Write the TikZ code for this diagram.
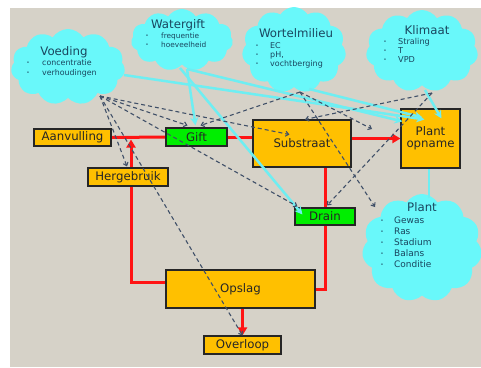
\documentclass[tikz,border=0pt]{standalone}
\usepackage{fontspec}
\setmainfont{DejaVu Sans}
\usetikzlibrary{shapes.symbols,arrows.meta,calc}
\pgfdeclarelayer{back}
\pgfdeclarelayer{flows}
\pgfsetlayers{back,flows,main}
\definecolor{bg}{RGB}{214,210,200}
\definecolor{cloudc}{RGB}{105,248,250}
\definecolor{cyanl}{RGB}{110,238,242}
\definecolor{boxor}{RGB}{255,192,0}
\definecolor{boxgr}{RGB}{0,238,0}
\definecolor{redl}{RGB}{255,20,20}
\definecolor{dashc}{RGB}{64,80,104}
\definecolor{cltext}{RGB}{25,70,95}
\newcommand\bul[1]{\makebox[#1][l]{\fontsize{5}{5}\selectfont\raisebox{0.8bp}{•}}}
\begin{document}
\begin{tikzpicture}[x=1bp,y=-1bp,
  cloudbox/.style={cloud, cloud puffs=11, cloud puff arc=115, cloud ignores aspect, fill=cloudc, draw=none, inner sep=0},
  title/.style={text=cltext, font=\fontsize{11.8}{14}\selectfont, inner sep=0},
  items/.style={text=cltext, align=left, anchor=north west, inner sep=0},
  obox/.style={draw=black!85, line width=1.1bp, fill=boxor, font=\fontsize{11.8}{13}\selectfont, text=black!85, inner sep=0, align=center},
  gbox/.style={obox, fill=boxgr},
  flow/.style={redl, line width=3bp},
  flowarr/.style={flow, -{Triangle[length=8bp,width=9bp]}},
  infl/.style={cyanl, line width=2.5bp, -{Stealth[length=8bp,width=8bp]}},
  infline/.style={cyanl, line width=2.5bp},
  dep/.style={dashc, line width=1.1bp, dash pattern=on 4bp off 3bp, -{Straight Barb[length=3bp,width=5bp]}},
]
\useasboundingbox (0,0) rectangle (481,367);

\begin{pgfonlayer}{back}
\fill[bg] (10,8) rectangle (481,367);
\node[cloudbox, minimum width=114bp, minimum height=76bp] (cVoed) at (68,67) {};
\node[cloudbox, minimum width=102bp, minimum height=62bp] (cWater) at (182,40) {};
\node[cloudbox, minimum width=104bp, minimum height=86bp] (cWortel) at (294,50) {};
\node[cloudbox, minimum width=112bp, minimum height=82bp] (cKlim) at (422,51) {};
\node[cloudbox, minimum width=120bp, minimum height=108bp] (cPlant) at (422,248) {};
\end{pgfonlayer}

% cloud texts
\node[title] (tVoed) at (64,52) {Voeding};
\node[items, font=\fontsize{7.9}{10}\selectfont] (iVoed) at (26.5,59) {\bul{15.5bp}concentratie\\\bul{15.5bp}verhoudingen};
\node[title] (tWater) at (178,25) {Watergift};
\node[items, font=\fontsize{7.4}{9}\selectfont] (iWater) at (145.5,32.5) {\bul{15.5bp}frequentie\\\bul{15.5bp}hoeveelheid};
\node[title] (tWortel) at (296,33) {Wortelmilieu};
\node[items, font=\fontsize{8}{9}\selectfont] (iWortel) at (255.5,42) {\bul{14.5bp}EC\\\bul{14.5bp}pH,\\\bul{14.5bp}vochtberging};
\node[title] (tKlim) at (427,30) {Klimaat};
\node[items, font=\fontsize{8.2}{9}\selectfont] (iKlim) at (383.5,38) {\bul{14.5bp}Straling\\\bul{14.5bp}T\\\bul{14.5bp}VPD};
\node[title] (tPlant) at (422,207) {Plant};
\node[items, font=\fontsize{9}{11}\selectfont] (iPlant) at (380.5,216.5) {\bul{13.5bp}Gewas\\\bul{13.5bp}Ras\\\bul{13.5bp}Stadium\\\bul{13.5bp}Balans\\\bul{13.5bp}Conditie};

% hubs and free ends
\coordinate (hV) at (100,96);
\coordinate (hW) at (300,92);
\coordinate (hK) at (432,93);
\coordinate (pO) at (372,129);
\coordinate (jn) at (131,139.5);
\coordinate (sV) at (124,75);
\coordinate (sWg) at (187,69);
\coordinate (sWd) at (180,68);
\coordinate (sWo) at (309,89);
\coordinate (sK) at (425,90);
\coordinate (sP) at (429,198);

% boxes
\node[obox, minimum width=77bp, minimum height=17bp] (Aanv) at (72.5,137.5) {Aanvulling};
\node[gbox, minimum width=61bp, minimum height=18bp] (Gift) at (196.5,137) {Gift};
\node[obox, minimum width=98bp, minimum height=47bp] (Subs) at (302,143.5) {Substraat};
\node[obox, minimum width=59bp, minimum height=59bp] (PlantO) at (430.5,138.5) {Plant\\[-1bp]opname};
\node[obox, minimum width=80bp, minimum height=18bp] (Herg) at (128,177) {Hergebruik};
\node[gbox, minimum width=60bp, minimum height=17bp] (Drain) at (325,216.5) {Drain};
\node[obox, minimum width=149bp, minimum height=38bp] (Opslag) at (240.5,289) {Opslag};
\node[obox, minimum width=77bp, minimum height=18bp] (Overl) at (242.5,345) {Overloop};

% red flows (behind boxes)
\begin{pgfonlayer}{flows}
\draw[flow] (Aanv.east) -- (Gift.west);
\draw[flow] (Gift.east) -- (Gift.east -| Subs.west);
\draw[flowarr] (Subs.east |- PlantO.west) -- (PlantO.west);
\draw[flowarr] ($(Opslag.west)+(0,-7)$) -| (jn);
\draw[flow] (Subs.south -| Drain.north) -- (Drain.north |- Opslag.east) -- (Opslag.east);
\draw[flowarr] (Opslag.south -| Overl.north) -- (Overl.north);
\end{pgfonlayer}

% cyan influences
\draw[infl] (sV) -- ($(PlantO.north west)+(24,11)$);
\draw[infl] (sWg) -- ($(PlantO.north west)+(2,13)$);
\draw[infl] (sWo) -- ($(PlantO.north west)+(22,9)$);
\draw[infl] (sK) -- ($(PlantO.north west)+(41,10)$);
\draw[infl] (sWg) -- ($(Gift.north)+(-1,-2)$);
\draw[infl] (sWd) -- ($(Drain.west)+(8,-2)$);
\draw[infline] (sP) -- (PlantO.south -| sP);

% dashed dependencies
\draw[dep] (hV) -- ($(Herg.north)+(-1,-1)$);
\draw[dep] (hV) -- (Overl.north);
\draw[dep] (hV) -- ($(Gift.north)+(-9,-2)$);
\draw[dep] (hV) -- ($(Subs.west)+(37,-9)$);
\draw[dep] (hV) -- ($(Drain.north west)+(3,-1)$);
\draw[dep] (hK) -- ($(Subs.north)+(3,0)$);
\draw[dep] (hK) -- ($(Drain.north)+(2,-2)$);
\draw[dep] (hW) -- ($(Gift.north)+(4,-2)$);
\draw[dep] (hW) -- (pO);
\draw[dep] (hW) -- ($(cPlant.center)+(-47,-41)$);
\end{tikzpicture}
\end{document}
